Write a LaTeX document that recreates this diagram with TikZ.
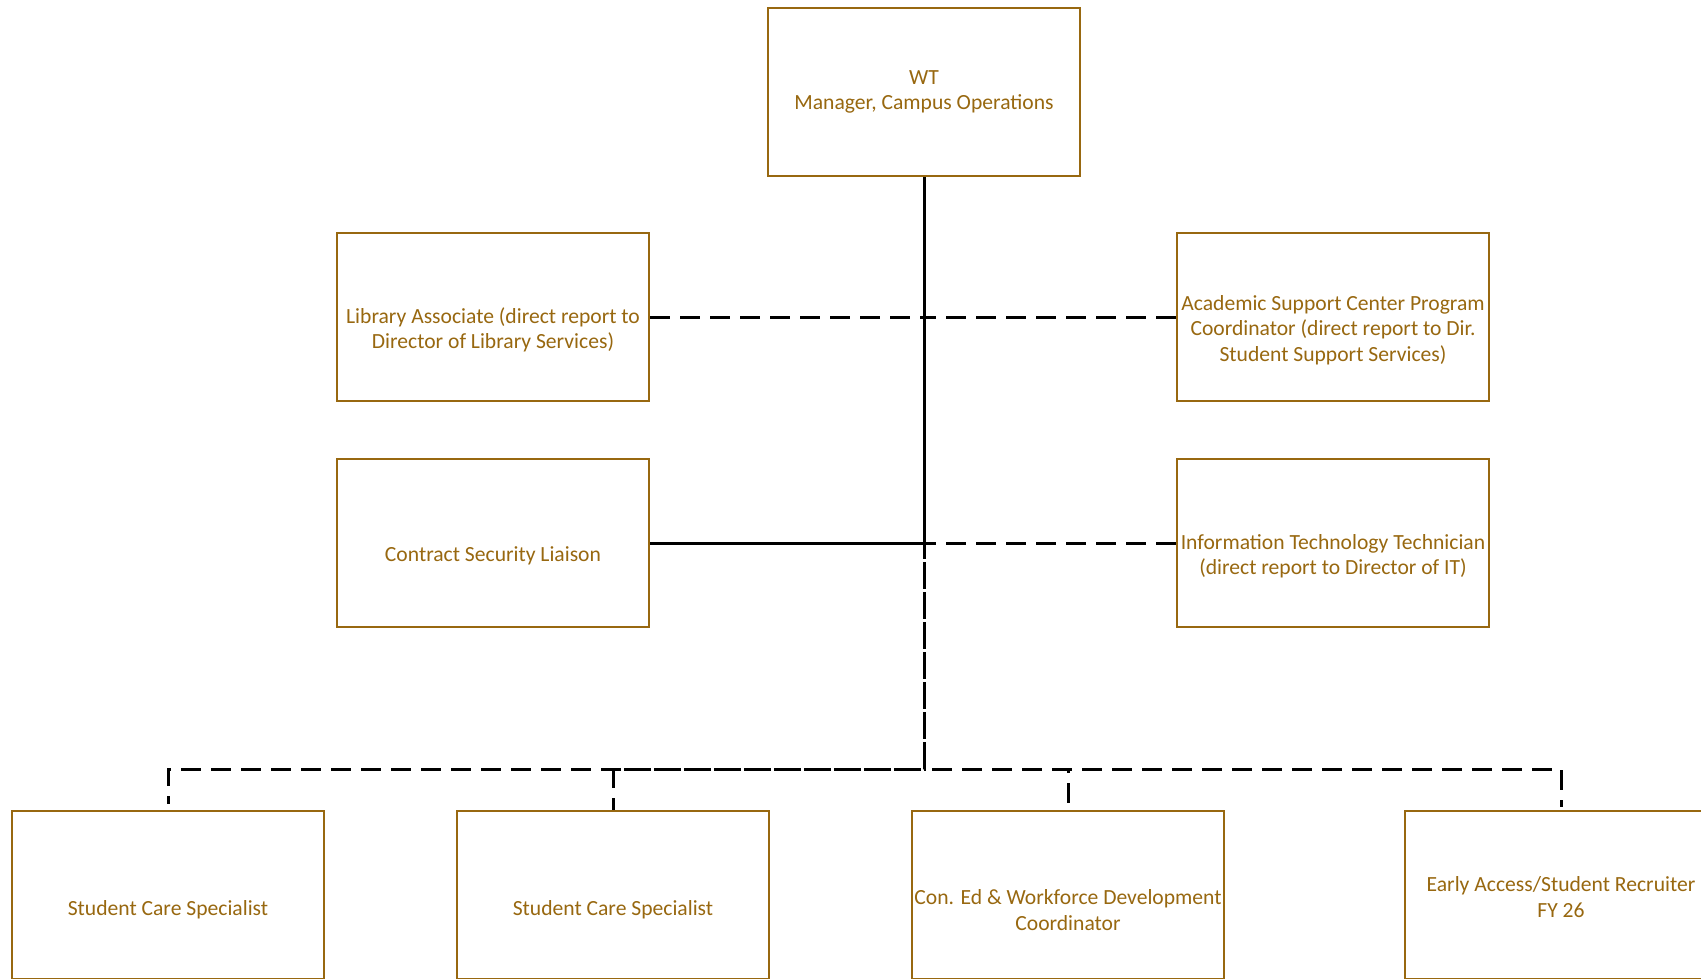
\documentclass[tikz,border=0pt]{standalone}
\usepackage{fontspec}
\setmainfont{Carlito}
\usetikzlibrary{calc}
\definecolor{gold}{RGB}{152,104,16}
\tikzset{
  box/.style={draw=gold, line width=2.4pt, minimum width=312pt, minimum height=168pt, inner sep=0pt, fill=white},
  txt/.style={text=gold, align=center, font=\fontsize{21.6}{25.5}\selectfont, inner sep=0pt},
  solidconn/.style={draw=black, line width=3pt},
  dashconn/.style={draw=black, line width=3pt, dash pattern=on 20pt off 10pt},
}
\begin{document}
\begin{tikzpicture}[x=1pt,y=-1pt]
\useasboundingbox (0,0) rectangle (1701,978);
\clip (0,0) rectangle (1701,978);
\fill[white] (0,0) rectangle (1701,978);
% boxes
\node[box] (top) at (924,92) {};
\node[box] (lib) at (493,317) {};
\node[box] (asc) at (1333,317) {};
\node[box] (csl) at (493,543) {};
\node[box] (itt) at (1333,543) {};
\node[box] (scs1) at (168,895) {};
\node[box] (scs2) at (613,895) {};
\node[box] (coned) at (1068,895) {};
\node[box] (early) at (1561,895) {};
\coordinate (bus) at (924,769);
% connectors
\draw[dashconn] (lib.east) -| (top.south);
\draw[dashconn] (asc.west) -| (top.south);
\draw[dashconn] (itt.west) -| (top.south);
\draw[solidconn] (top.south) |- (csl.east);
\draw[dashconn, dash phase=5pt] (top.south) -- (bus) -| ($(scs1.north)+(0,-6)$);
\draw[dashconn, dash phase=28pt] (top.south) -- (bus) -| (scs2.north);
\draw[dashconn] (top.south) -- (bus) -| (coned.north);
\draw[dashconn] (top.south) -- (bus) -| ($(early.north)+(0,-3)$);
% texts
\node[txt] (ttop) at (924,92) {WT\\Manager, Campus Operations};
\node[txt] (tlib) at ($(lib)+(0,13)$) {Library Associate (direct report to\\Director of Library Services)};
\node[txt] (tasc) at ($(asc)+(0,13)$) {Academic Support Center Program\\Coordinator (direct report to Dir.\\Student Support Services)};
\node[txt] (tcsl) at ($(csl)+(0,13)$) {Contract Security Liaison};
\node[txt] (titt) at ($(itt)+(0,13)$) {Information Technology Technician\\(direct report to Director of IT)};
\node[txt] (tscs1) at ($(scs1)+(0,15)$) {Student Care Specialist};
\node[txt] (tscs2) at ($(scs2)+(0,15)$) {Student Care Specialist};
\node[txt] (tconed) at ($(coned)+(0,15)$) {Con. Ed \& Workforce Development\\Coordinator};
\node[txt] (tearly) at ($(early)+(0,2)$) {Early Access/Student Recruiter\\FY 26};
\end{tikzpicture}
\end{document}
